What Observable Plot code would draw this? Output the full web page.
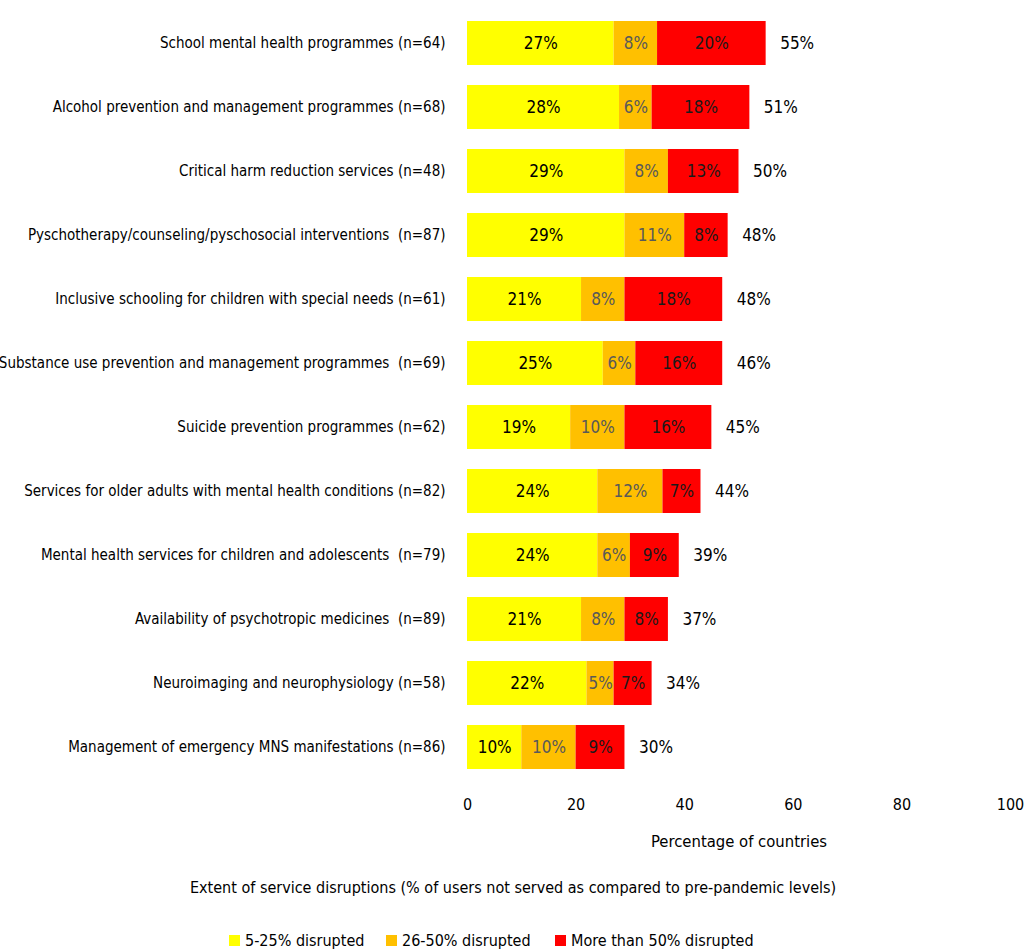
<!DOCTYPE html>
<html>
<head>
<meta charset="utf-8">
<script src="https://cdn.jsdelivr.net/npm/d3@7"></script>
<script src="https://cdn.jsdelivr.net/npm/@observablehq/plot@0.6"></script>
<style>
  body { margin: 0; background: #fff; font-family: "DejaVu Sans", sans-serif; font-stretch: condensed; color: #000; }
  svg text { font-stretch: condensed; }
  #wrap { position: relative; width: 1027px; height: 952px; }
  #legendTitle { position: absolute; left: 190px; top: 878px; font-size: 16px; white-space: nowrap; }
  .item { position: absolute; top: 931px; font-size: 16px; display: flex; align-items: center; white-space: nowrap; }
  .sw { width: 11px; height: 11px; margin-right: 5px; }
</style>
</head>
<body>
<div id="wrap">
  <div id="chart"></div>
  <div id="legendTitle">Extent of service disruptions (% of users not served as compared to pre-pandemic levels)</div>
  <div id="legend"></div>
</div>
<script>
const categories = [
  "School mental health programmes (n=64)",
  "Alcohol prevention and management programmes (n=68)",
  "Critical harm reduction services (n=48)",
  "Pyschotherapy/counseling/pyschosocial interventions  (n=87)",
  "Inclusive schooling for children with special needs (n=61)",
  "Substance use prevention and management programmes  (n=69)",
  "Suicide prevention programmes (n=62)",
  "Services for older adults with mental health conditions (n=82)",
  "Mental health services for children and adolescents  (n=79)",
  "Availability of psychotropic medicines  (n=89)",
  "Neuroimaging and neurophysiology (n=58)",
  "Management of emergency MNS manifestations (n=86)"
];
const seriesNames = ["5-25% disrupted", "26-50% disrupted", "More than 50% disrupted"];
const low  = [27, 28, 29, 29, 21, 25, 19, 24, 24, 21, 22, 10];
const mid  = [8, 6, 8, 11, 8, 6, 10, 12, 6, 8, 5, 10];
const high = [20, 18, 13, 8, 18, 16, 16, 7, 9, 8, 7, 9];
const totals = [55, 51, 50, 48, 48, 46, 45, 44, 39, 37, 34, 30];
const xTicks = [0, 20, 40, 60, 80, 100];
const colors = ["#FFFF00", "#FFC000", "#FF0000"];
const textColors = ["#000000", "#595959", "#1a1a1a"];

const seriesValues = [low, mid, high];
const rows = [];
seriesNames.forEach((s, si) => {
  categories.forEach((c, ci) => {
    rows.push({cat: c, series: s, value: seriesValues[si][ci], label: seriesValues[si][ci] + "%", tcol: textColors[si]});
  });
});
const totalRows = categories.map((c, i) => ({
  cat: c,
  end: low[i] + mid[i] + high[i],
  label: totals[i] + "%"
}));

const font = '"DejaVu Sans", sans-serif';

const chart = Plot.plot({
  width: 1027,
  height: 860,
  marginLeft: 467,
  marginRight: 17,
  marginTop: 11,
  marginBottom: 81,
  style: {fontFamily: font, fontSize: "15px", color: "#000", background: "#fff"},
  x: {domain: [0, 100], ticks: xTicks, tickSize: 0, tickPadding: 19, label: null, tickFormat: d => String(d)},
  y: {domain: categories, paddingInner: 0.3125, paddingOuter: 0.15625, tickSize: 0, tickPadding: 22, label: null},
  color: {domain: seriesNames, range: colors},
  marks: [
    Plot.barX(rows, Plot.stackX({x: "value", y: "cat", fill: "series", order: null})),
    Plot.text(rows, Plot.stackX({x: "value", y: "cat", text: "label", fill: "tcol", fontSize: 17, order: null})),
    Plot.text(totalRows, {x: "end", y: "cat", text: "label", textAnchor: "start", dx: 14, fontSize: 17, fill: "#000"}),
    Plot.ruleX([0], {y1: categories[0], y2: categories[categories.length - 1], stroke: "#d9d9d9", strokeWidth: 2, insetTop: -33, insetBottom: -22}),
    Plot.text(["Percentage of countries"], {frameAnchor: "bottom", x: 50, dy: 67, fontSize: 16.5, fill: "#000", textAnchor: "middle"})
  ]
});
chart.querySelectorAll('g[aria-label="x-axis tick label"] text').forEach(t => t.style.fontSize = "16px");
document.getElementById("chart").appendChild(chart);

const legend = document.getElementById("legend");
const legendLeft = [229, 386, 555];
seriesNames.forEach((s, i) => {
  const it = document.createElement("div");
  it.className = "item";
  it.style.left = legendLeft[i] + "px";
  const sw = document.createElement("div");
  sw.className = "sw";
  sw.style.background = colors[i];
  const t = document.createElement("span");
  t.textContent = s;
  it.appendChild(sw); it.appendChild(t);
  legend.appendChild(it);
});
</script>
</body>
</html>
